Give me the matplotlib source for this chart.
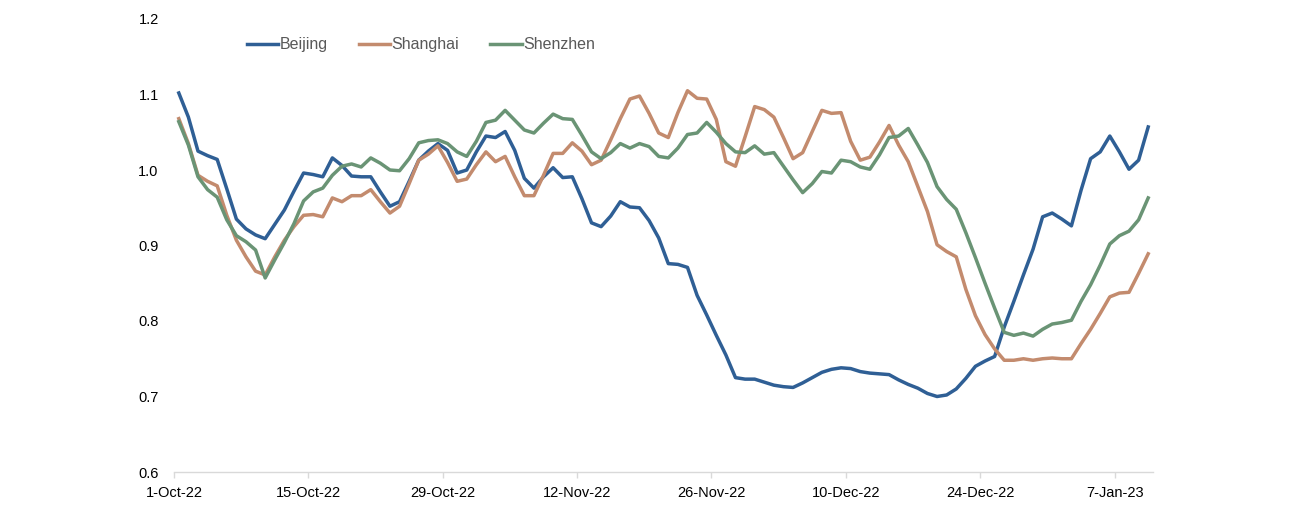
import matplotlib
matplotlib.use("Agg")
import matplotlib.pyplot as plt
import numpy as np

plt.rcParams['font.family'] = ['Liberation Sans', 'DejaVu Sans']

series_names = ["Beijing", "Shanghai", "Shenzhen"]
tick_labels = ["1-Oct-22", "15-Oct-22", "29-Oct-22", "12-Nov-22",
               "26-Nov-22", "10-Dec-22", "24-Dec-22", "7-Jan-23"]

beijing = [1.102, 1.070, 1.025, 1.019, 1.014, 0.975, 0.935, 0.922, 0.914, 0.909,
           0.928, 0.947, 0.972, 0.996, 0.994, 0.991, 1.016, 1.006, 0.992, 0.991,
           0.991, 0.971, 0.952, 0.958, 0.985, 1.013, 1.025, 1.035, 1.026, 0.996,
           1.000, 1.024, 1.045, 1.043, 1.051, 1.026, 0.989, 0.976, 0.991, 1.003,
           0.990, 0.991, 0.962, 0.930, 0.925, 0.939, 0.958, 0.951, 0.950, 0.933,
           0.910, 0.876, 0.875, 0.871, 0.834, 0.808, 0.781, 0.755, 0.725, 0.723,
           0.723, 0.719, 0.715, 0.713, 0.712, 0.718, 0.725, 0.732, 0.736, 0.738,
           0.737, 0.733, 0.731, 0.730, 0.729, 0.722, 0.716, 0.711, 0.704, 0.700,
           0.702, 0.710, 0.724, 0.740, 0.747, 0.753, 0.792, 0.826, 0.861, 0.895,
           0.938, 0.943, 0.935, 0.926, 0.973, 1.015, 1.024, 1.045, 1.024, 1.001,
           1.013, 1.057]

shanghai = [1.068, 1.035, 0.993, 0.985, 0.979, 0.940, 0.907, 0.885, 0.866, 0.861,
            0.885, 0.907, 0.925, 0.940, 0.941, 0.938, 0.963, 0.958, 0.966, 0.966,
            0.974, 0.958, 0.943, 0.952, 0.982, 1.013, 1.021, 1.032, 1.010, 0.985,
            0.988, 1.007, 1.024, 1.011, 1.018, 0.991, 0.966, 0.966, 0.993, 1.022,
            1.022, 1.036, 1.025, 1.007, 1.013, 1.040, 1.068, 1.094, 1.098, 1.075,
            1.049, 1.043, 1.076, 1.105, 1.095, 1.094, 1.067, 1.011, 1.005, 1.044,
            1.084, 1.080, 1.070, 1.043, 1.015, 1.023, 1.051, 1.079, 1.075, 1.076,
            1.038, 1.013, 1.017, 1.037, 1.059, 1.033, 1.011, 0.978, 0.945, 0.901,
            0.892, 0.885, 0.842, 0.807, 0.782, 0.763, 0.748, 0.748, 0.750, 0.748,
            0.750, 0.751, 0.750, 0.750, 0.770, 0.789, 0.810, 0.832, 0.837, 0.838,
            0.863, 0.889]

shenzhen = [1.064, 1.033, 0.991, 0.974, 0.964, 0.934, 0.913, 0.905, 0.894, 0.857,
            0.881, 0.904, 0.929, 0.959, 0.971, 0.976, 0.993, 1.005, 1.008, 1.004,
            1.016, 1.009, 1.000, 0.999, 1.015, 1.036, 1.039, 1.040, 1.035, 1.024,
            1.018, 1.038, 1.063, 1.066, 1.079, 1.066, 1.053, 1.049, 1.062, 1.074,
            1.068, 1.067, 1.046, 1.024, 1.015, 1.023, 1.035, 1.029, 1.035, 1.031,
            1.018, 1.016, 1.029, 1.047, 1.049, 1.063, 1.050, 1.035, 1.024, 1.023,
            1.032, 1.021, 1.023, 1.005, 0.987, 0.970, 0.982, 0.998, 0.996, 1.013,
            1.011, 1.004, 1.001, 1.020, 1.043, 1.045, 1.055, 1.033, 1.010, 0.978,
            0.961, 0.948, 0.917, 0.884, 0.850, 0.817, 0.785, 0.781, 0.784, 0.780,
            0.789, 0.796, 0.798, 0.801, 0.826, 0.848, 0.874, 0.902, 0.913, 0.919,
            0.934, 0.963]

colors = ["#2F5F95", "#C38B6E", "#6A9475"]

fig = plt.figure(figsize=(13.11, 5.19), dpi=100)
ax = fig.add_axes([174 / 1311, 1 - 472 / 519, (1153 - 174) / 1311, (472 - 19) / 519])

n = len(beijing)
days = np.arange(n) + 0.5
for name, vals, c in zip(series_names, [beijing, shanghai, shenzhen], colors):
    ax.plot(days, vals, color=c, lw=2.5, label=name, solid_joinstyle='round')

ax.set_xlim(0, n)
ax.set_ylim(0.6, 1.2)
yt = np.round(np.arange(0.6, 1.21, 0.1), 1)
ax.set_yticks(yt)
ax.set_yticklabels([f"{v:.1f}" for v in yt])
ax.set_xticks(np.arange(0, 14 * len(tick_labels), 14))
ax.set_xticklabels(tick_labels)

for s in ["top", "right", "left"]:
    ax.spines[s].set_visible(False)
ax.spines["bottom"].set_color("#D9D9D9")
ax.spines["bottom"].set_linewidth(1.0)
ax.tick_params(axis="y", length=0, pad=11, labelsize=10.5, labelcolor="#000000")
ax.tick_params(axis="x", length=4, width=1, color="#D9D9D9", pad=6,
               labelsize=10.5, labelcolor="#000000")

leg = ax.legend(loc="center left", bbox_to_anchor=(0.0745, 0.943), ncol=3,
                frameon=False, handlelength=1.95, handletextpad=0.1,
                columnspacing=1.95, fontsize=11.5, borderpad=0, borderaxespad=0)
for t in leg.get_texts():
    t.set_color("#595959")

fig.savefig("out.png", dpi=100)
